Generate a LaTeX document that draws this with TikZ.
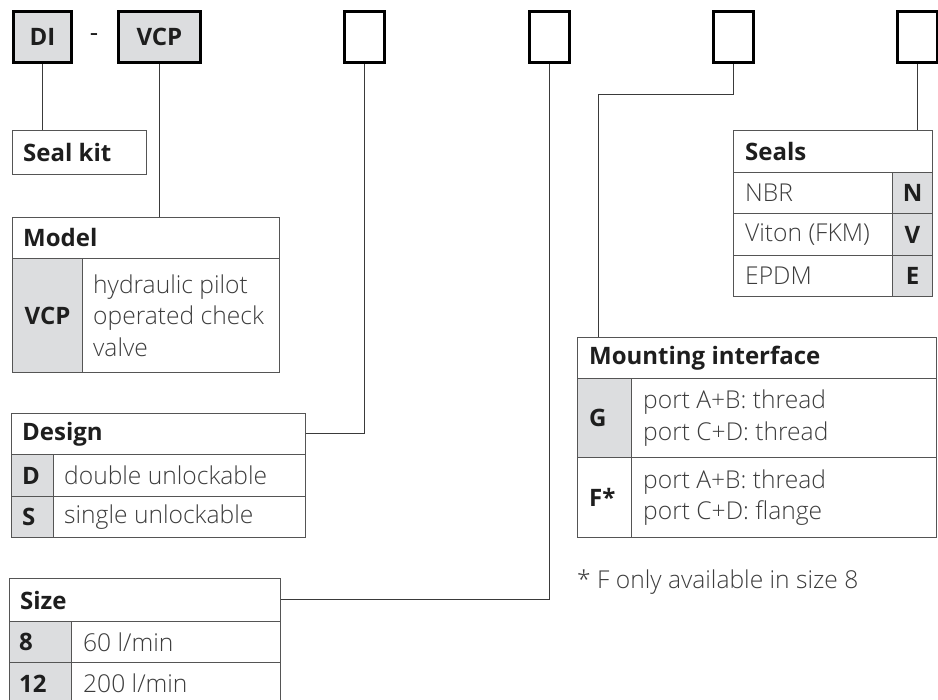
\documentclass[tikz,border=0pt]{standalone}
\usepackage{fontspec}
\setmainfont{Open Sans}
\newfontfamily\lightfont{Open Sans Light}
\definecolor{kgray}{HTML}{DCDDDF}
\definecolor{tline}{HTML}{555555}
\definecolor{conn}{HTML}{3A3A3A}
\definecolor{ink}{HTML}{1E1E1E}
\definecolor{soft}{HTML}{3C3C3C}
\tikzset{
 topbox/.style={draw=black, line width=2.8pt, anchor=north west, inner sep=0pt, minimum height=51pt, font=\fontsize{24}{28}\selectfont\bfseries, text=ink},
 cell/.style={draw=tline, line width=1pt, anchor=north west, inner sep=0pt},
 keycell/.style={cell, fill=kgray},
 hd/.style={anchor=west, inner sep=0pt, font=\fontsize{24}{31}\selectfont\bfseries, text=ink},
 bd/.style={anchor=west, inner sep=0pt, align=left, font=\fontsize{24.6}{31.5}\selectfont\lightfont, text=soft},
 kc/.style={inner sep=0pt, font=\fontsize{24}{31}\selectfont\bfseries, text=ink},
 wire/.style={draw=conn, line width=1pt},
}
\begin{document}
\begin{tikzpicture}[x=1pt,y=-1pt]
\useasboundingbox (0,0) rectangle (938,700);
% top code boxes
\node[topbox, fill=kgray, minimum width=58pt] (di) at (12,10) {DI};
\node[inner sep=0pt, font=\fontsize{26}{28}\selectfont, text=ink] (dash) at (94,38) {-};
\node[topbox, fill=kgray, minimum width=82pt] (vcp) at (117,10) {VCP};
\node[topbox, minimum width=40pt] (b1) at (343,10) {};
\node[topbox, minimum width=40pt] (b2) at (528,10) {};
\node[topbox, minimum width=40pt] (b3) at (712,10) {};
\node[topbox, minimum width=40pt] (b4) at (896,10) {};
% Seal kit
\node[cell, minimum width=134pt, minimum height=44pt] (sk) at (12,130) {};
\node[hd] (skT) at ([xshift=11pt]sk.west) {Seal kit};
% Model
\node[cell, minimum width=267pt, minimum height=41pt] (mH) at (12,217) {};
\node[hd] (mHT) at ([xshift=11pt]mH.west) {Model};
\node[keycell, minimum width=70pt, minimum height=114pt] (mK) at (12,258) {};
\node[kc] (mKT) at (mK.center) {VCP};
\node[cell, minimum width=197pt, minimum height=114pt] (mD) at (82,258) {};
\node[bd] (mDT) at ([xshift=11pt]mD.west) {hydraulic pilot\\operated check\\valve};
% Design
\node[cell, minimum width=294pt, minimum height=41pt] (dH) at (11,413) {};
\node[hd] (dHT) at ([xshift=11pt]dH.west) {Design};
\node[keycell, minimum width=42pt, minimum height=42pt] (dK1) at (11,454) {};
\node[kc, anchor=west] (dK1T) at ([xshift=11pt]dK1.west) {D};
\node[cell, minimum width=252pt, minimum height=42pt] (dD1) at (53,454) {};
\node[bd] (dD1T) at ([xshift=11pt]dD1.west) {double unlockable};
\node[keycell, minimum width=42pt, minimum height=41pt] (dK2) at (11,496) {};
\node[kc, anchor=west] (dK2T) at ([xshift=11pt]dK2.west) {S};
\node[cell, minimum width=252pt, minimum height=41pt] (dD2) at (53,496) {};
\node[bd] (dD2T) at ([xshift=11pt]dD2.west) {single unlockable};
% Size
\node[cell, minimum width=271pt, minimum height=43pt] (sH) at (9,578) {};
\node[hd] (sHT) at ([xshift=11pt]sH.west) {Size};
\node[keycell, minimum width=62pt, minimum height=41pt] (sK1) at (9,621) {};
\node[kc, anchor=west] (sK1T) at ([xshift=10pt]sK1.west) {8};
\node[cell, minimum width=209pt, minimum height=41pt] (sD1) at (71,621) {};
\node[bd] (sD1T) at ([xshift=12pt]sD1.west) {60 l/min};
\node[keycell, minimum width=62pt, minimum height=42pt] (sK2) at (9,662) {};
\node[kc, anchor=west] (sK2T) at ([xshift=10pt]sK2.west) {12};
\node[cell, minimum width=209pt, minimum height=42pt] (sD2) at (71,662) {};
\node[bd] (sD2T) at ([xshift=12pt]sD2.west) {200 l/min};
% Seals
\node[cell, minimum width=199pt, minimum height=42pt] (seH) at (733,130) {};
\node[hd] (seHT) at ([xshift=12pt]seH.west) {Seals};
\node[cell, minimum width=159pt, minimum height=41pt] (seD1) at (733,172) {};
\node[bd] (seD1T) at ([xshift=12pt]seD1.west) {NBR};
\node[keycell, minimum width=40pt, minimum height=41pt] (seK1) at (892,172) {};
\node[kc] (seK1T) at (seK1.center) {N};
\node[cell, minimum width=159pt, minimum height=42pt] (seD2) at (733,213) {};
\node[bd] (seD2T) at ([xshift=12pt]seD2.west) {Viton (FKM)};
\node[keycell, minimum width=40pt, minimum height=42pt] (seK2) at (892,213) {};
\node[kc] (seK2T) at (seK2.center) {V};
\node[cell, minimum width=159pt, minimum height=41pt] (seD3) at (733,255) {};
\node[bd] (seD3T) at ([xshift=12pt]seD3.west) {EPDM};
\node[keycell, minimum width=40pt, minimum height=41pt] (seK3) at (892,255) {};
\node[kc] (seK3T) at (seK3.center) {E};
% Mounting interface
\node[cell, minimum width=359pt, minimum height=41pt] (mtH) at (577,337) {};
\node[hd] (mtHT) at ([xshift=12pt]mtH.west) {Mounting interface};
\node[keycell, minimum width=54pt, minimum height=79pt] (mtK1) at (577,378) {};
\node[kc, anchor=west] (mtK1T) at ([xshift=12pt]mtK1.west) {G};
\node[cell, minimum width=305pt, minimum height=79pt] (mtD1) at (631,378) {};
\node[bd] (mtD1T) at ([xshift=12pt]mtD1.west) {port A+B: thread\\port C+D: thread};
\node[cell, minimum width=54pt, minimum height=80pt] (mtK2) at (577,457) {};
\node[kc, anchor=west] (mtK2T) at ([xshift=12pt]mtK2.west) {F*};
\node[cell, minimum width=305pt, minimum height=80pt] (mtD2) at (631,457) {};
\node[bd] (mtD2T) at ([xshift=12pt]mtD2.west) {port A+B: thread\\port C+D: flange};
% footnote
\node[bd, anchor=base west] (fn) at (577,589) {* F only available in size 8};
% connectors
\draw[wire] (di.south) -- (di.south |- sk.north);
\draw[wire] (vcp.south) -- (vcp.south |- mH.north);
\draw[wire] (b1.south) |- (dH.east);
\draw[wire] (b2.south) |- (sH.east);
\coordinate (bend3) at (598,95);
\draw[wire] (b3.south) |- (bend3) -- (bend3 |- mtH.north);
\draw[wire] (b4.south) -- (b4.south |- seH.north);
\end{tikzpicture}
\end{document}
